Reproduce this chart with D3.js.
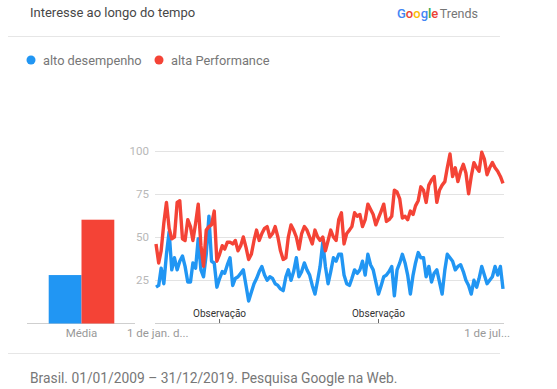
<!DOCTYPE html>
<html><head><meta charset="utf-8">
<script src="https://cdn.jsdelivr.net/npm/d3@7"></script>
<style>
html,body{margin:0;padding:0;background:#fff;}
svg{display:block;font-family:Roboto,"Noto Sans",Arial,sans-serif;}
</style></head>
<body><svg id="c" width="557" height="389"></svg>
<script>
const title = "Interesse ao longo do tempo";
const seriesNames = ["alto desempenho", "alta Performance"];
const seriesColors = ["#2196f3", "#f44336"];
const averages = [28, 60];
const yTicks = [25, 50, 75, 100];
const startDate = "2009-01-01";
const xLabels = ["1 de jan. d...", "1 de jul..."];
const notes = [["2011-01-01", "Observação"], ["2016-01-01", "Observação"]];
const footer = "Brasil. 01/01/2009 – 31/12/2019. Pesquisa Google na Web.";

const blue = [21,22,32,23,40,53,31,38,31,36,39,33,
24,24,35,32,49,31,27,40,62,36,35,21,
26,30,29,34,38,22,26,27,29,31,22,13,
18,23,26,30,33,28,25,27,26,23,22,20,
19,27,31,25,30,38,27,30,35,31,28,22,
17,25,33,47,33,23,30,38,36,40,40,28,
23,22,26,31,29,31,36,28,40,34,31,24,
17,22,27,28,30,33,16,31,35,40,35,28,
17,28,35,41,38,38,27,33,24,29,31,24,
17,31,40,38,36,31,33,34,30,25,22,17,
25,21,26,33,28,23,25,27,33,28,33,20];
const red = [46,35,42,58,70,55,49,50,70,71,49,48,
60,56,48,58,69,45,33,54,56,57,65,36,
40,45,43,47,47,46,48,42,45,50,44,37,
40,48,54,48,52,55,56,50,52,56,50,42,
37,38,50,57,54,50,43,52,56,54,50,46,
54,50,48,50,42,48,54,50,48,60,64,46,
52,54,56,64,62,63,56,60,69,66,63,57,
61,65,69,59,60,62,77,76,72,61,62,60,
65,63,68,71,79,77,70,80,83,85,70,77,
80,82,90,98,85,90,82,88,92,87,75,85,
93,90,88,99,95,86,90,93,90,88,85,81];

const svg = d3.select("#c");

// header
svg.append("text").attr("x", 30).attr("y", 17).attr("font-size", 13).attr("fill", "#474747").text(title);
const g = svg.append("text").attr("x", 397).attr("y", 18).attr("font-size", 13);
const gl = [["G","#4285f4"],["o","#ea4335"],["o","#fbbc05"],["g","#4285f4"],["l","#34a853"],["e","#ea4335"]];
gl.forEach(([c,col]) => g.append("tspan").attr("fill", col).attr("font-weight", 500).text(c));
g.append("tspan").attr("fill", "#757575").attr("dx", 1.5).attr("font-size", 12.5).text("Trends");
svg.append("line").attr("x1", 8).attr("x2", 500).attr("y1", 36.5).attr("y2", 36.5).attr("stroke", "#e6e6e6");

// legend
const legX = [31, 159];
seriesNames.forEach((n, i) => {
  svg.append("circle").attr("cx", legX[i]).attr("cy", 60).attr("r", 4.5).attr("fill", seriesColors[i]);
  svg.append("text").attr("x", legX[i] + 12).attr("y", 64.5).attr("font-size", 12.8).attr("fill", "#777").text(n);
});

// scales
const y = d3.scaleLinear().domain([0, 100]).range([323.5, 150.5]);
const dates = d3.timeMonth.range(new Date(startDate + "T00:00:00"), d3.timeMonth.offset(new Date(startDate + "T00:00:00"), blue.length));
const x = d3.scaleTime().domain([dates[0], dates[dates.length - 1]]).range([156, 503]);

// gridlines
svg.append("g").selectAll("line").data(yTicks).join("line")
  .attr("x1", 155).attr("x2", 504).attr("y1", d => Math.round(y(d)) + 0.5).attr("y2", d => Math.round(y(d)) + 0.5)
  .attr("stroke", "#e3e3e3");
svg.append("g").selectAll("text").data(yTicks).join("text")
  .attr("x", 149).attr("y", d => y(d) + 4).attr("text-anchor", "end")
  .attr("font-size", 11.5).attr("fill", "#b8b8b8").text(d => d);

// baselines
svg.append("line").attr("x1", 155).attr("x2", 504).attr("y1", 323.5).attr("y2", 323.5).attr("stroke", "#cfcfcf");
svg.append("line").attr("x1", 27).attr("x2", 135).attr("y1", 323.5).attr("y2", 323.5).attr("stroke", "#cfcfcf");

// bars
const xb = d3.scaleBand().domain(seriesNames).range([48.7, 114.3]).padding(0);
svg.append("g").selectAll("rect").data(averages).join("rect")
  .attr("x", (d, i) => xb(seriesNames[i])).attr("width", xb.bandwidth())
  .attr("y", d => y(d)).attr("height", d => y(0) - y(d))
  .attr("fill", (d, i) => seriesColors[i]);
svg.append("text").attr("x", 81.5).attr("y", 337).attr("text-anchor", "middle")
  .attr("font-size", 11.5).attr("fill", "#999").text("Média");

// x labels
svg.append("text").attr("x", 127).attr("y", 337).attr("font-size", 11.5).attr("fill", "#999").text(xLabels[0]);
svg.append("text").attr("x", 510).attr("y", 337).attr("text-anchor", "end").attr("font-size", 11.5).attr("fill", "#999").text(xLabels[1]);

// lines
const line = d3.line().x((d, i) => x(dates[i])).y(d => y(d)).curve(d3.curveLinear);
[blue, red].forEach((s, i) => {
  svg.append("path").datum(s).attr("d", line).attr("fill", "none")
    .attr("stroke", seriesColors[i]).attr("stroke-width", 3.4).attr("stroke-linejoin", "round");
});

// notes
notes.forEach(([d, t]) => {
  const xx = x(new Date(d + "T00:00:00"));
  svg.append("text").attr("x", xx).attr("y", 317).attr("text-anchor", "middle")
    .attr("font-size", 10).attr("fill", "#333").text(t);
  svg.append("line").attr("x1", xx).attr("x2", xx).attr("y1", 319).attr("y2", 323).attr("stroke", "#666");
});

// footer
svg.append("line").attr("x1", 8).attr("x2", 500).attr("y1", 353.5).attr("y2", 353.5).attr("stroke", "#e6e6e6");
svg.append("text").attr("x", 30).attr("y", 383).attr("font-size", 13.8).attr("fill", "#777").text(footer);
</script></body></html>
